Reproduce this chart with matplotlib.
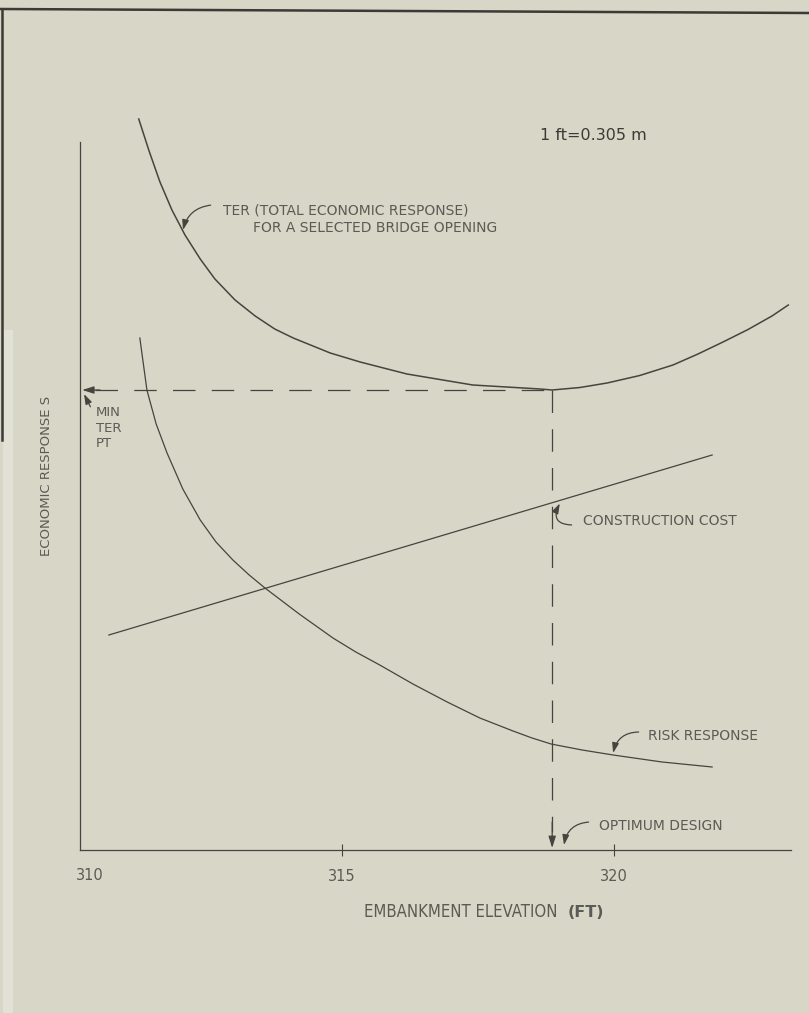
import matplotlib.pyplot as plt
import numpy as np
from matplotlib.lines import Line2D
from matplotlib.patches import Rectangle

# Embankment elevation (ft) vs economic response (relative units)
ter_elev = [311.26, 311.45, 311.65, 311.87, 312.11, 312.39, 312.66, 313.03, 313.40, 313.76,
            314.10, 314.78, 315.33, 316.19, 317.40, 318.64, 318.86, 319.37, 319.87, 320.47,
            321.08, 321.54, 322.00, 322.46, 322.90, 323.20]
ter_resp = [73.1, 69.9, 66.8, 64.0, 61.5, 59.1, 57.1, 55.0, 53.4, 52.1,
            51.2, 49.7, 48.8, 47.6, 46.5, 46.1, 46.0, 46.25, 46.7, 47.45,
            48.5, 49.6, 50.8, 52.05, 53.4, 54.5]

risk_elev = [311.28, 311.34, 311.41, 311.58, 311.78, 312.07, 312.39, 312.68, 312.99, 313.29,
             313.58, 314.21, 314.83, 315.25, 315.69, 316.30, 316.93, 317.53, 318.14, 318.49,
             318.84, 319.41, 319.98, 320.88, 321.80]
risk_resp = [51.2, 48.8, 46.0, 42.6, 39.7, 36.1, 33.0, 30.8, 29.0, 27.5,
             26.2, 23.6, 21.2, 19.8, 18.5, 16.6, 14.8, 13.2, 11.9, 11.2,
             10.6, 10.0, 9.5, 8.8, 8.3]

cost_elev = [310.71, 321.80]
cost_resp = [21.5, 39.5]

opt_elev = 318.86
ter_min = 46.0

x_ticks = [315, 320]

bg = '#d8d6c6'
ink = '#45453f'
txt = '#5b5b55'

plt.rcParams['font.family'] = 'DejaVu Sans'

W, H = 809, 1013
fig = plt.figure(figsize=(W / 100, H / 100), dpi=100, facecolor=bg)
ax = fig.add_axes([80 / W, 1 - 850 / H, (791 - 80) / W, (850 - 110) / H])
ax.set_facecolor(bg)
ax.set_xlim(310.18, 323.25)
ax.set_ylim(0, 74.0)


def px(x, y):
    # pixel position in the picture -> data coords (used only for placing labels)
    return (310.18 + (x - 80) / 54.4, (850 - y) / 10)


# curves
ax.plot(ter_elev, ter_resp, color=ink, lw=1.1, clip_on=False, solid_joinstyle='round')
ax.plot(risk_elev, risk_resp, color=ink, lw=0.9, solid_joinstyle='round')
ax.plot(cost_elev, cost_resp, color=ink, lw=0.9)

# dashed guide lines to the minimum TER point
dash = dict(color=ink, lw=0.9, dashes=(18, 13))
ax.plot([310.45, opt_elev], [ter_min, ter_min], **dash)
ax.plot([opt_elev, opt_elev], [ter_min, 1.8], **dash)
head = dict(arrowstyle='-|>,head_length=0.7,head_width=0.22', color=ink, lw=0.9,
            shrinkA=0, shrinkB=0)
ax.annotate('', xy=(310.22, ter_min), xytext=(310.55, ter_min), arrowprops=head)
ax.annotate('', xy=(opt_elev, 0.2), xytext=(opt_elev, 2.8), arrowprops=head)

# axes styling
for s in ['top', 'right']:
    ax.spines[s].set_visible(False)
ax.spines['left'].set_bounds(0, 70.8)
for s in ['left', 'bottom']:
    ax.spines[s].set_color(ink)
    ax.spines[s].set_linewidth(0.9)
ax.set_yticks([])
ax.set_xticks(x_ticks)
ax.set_xticklabels([str(t) for t in x_ticks])
ax.tick_params(axis='x', direction='inout', length=9, width=0.8, color=ink,
               pad=9, labelsize=10.5, labelcolor=txt)
fig.text(90 / W, 1 - 876 / H, '310', ha='center', va='center', fontsize=10.5, color=txt)

# axis titles
fig.text(47 / W, 1 - 476 / H, 'ECONOMIC RESPONSE S', rotation=90, ha='center',
         va='center', fontsize=9.5, color=txt)
fig.text(558 / W, 1 - 912 / H, 'EMBANKMENT ELEVATION', ha='right', va='center',
         fontsize=12, fontstretch='condensed', color=txt)
fig.text(568 / W, 1 - 912 / H, '(FT)', ha='left', va='center', fontsize=11.5,
         fontweight='bold', color=txt)

fig.text(540 / W, 1 - 136 / H, '1 ft=0.305 m', ha='left', va='center', fontsize=11.5,
         color='#3a3a36')

# annotations
arr = dict(arrowstyle='-|>,head_length=0.6,head_width=0.2', color=ink, lw=0.9,
           shrinkA=1, shrinkB=0)
ax.text(*px(223, 210), 'TER (TOTAL ECONOMIC RESPONSE)', fontsize=10, color=txt,
        ha='left', va='center')
ax.text(*px(253, 228), 'FOR A SELECTED BRIDGE OPENING', fontsize=10, color=txt,
        ha='left', va='center')
ax.annotate('', xy=px(183, 230), xytext=px(212, 205),
            arrowprops=dict(connectionstyle='arc3,rad=0.35', **arr))

ax.text(*px(96, 428), 'MIN\nTER\nPT', fontsize=9.5, color=txt, ha='left', va='center',
        linespacing=1.25)
ax.annotate('', xy=px(84, 394), xytext=px(91, 408), arrowprops=arr)

cost_x = 319.0
cost_y = np.interp(cost_x, cost_elev, cost_resp)
ax.text(*px(583, 521), 'CONSTRUCTION COST', fontsize=10, color=txt, ha='left', va='center')
ax.annotate('', xy=(cost_x, cost_y - 0.3), xytext=px(573, 525),
            arrowprops=dict(connectionstyle='arc3,rad=-0.8', **arr))

ax.text(*px(648, 736), 'RISK RESPONSE', fontsize=10, color=txt, ha='left', va='center')
ax.annotate('', xy=(risk_elev[22], risk_resp[22] + 0.2), xytext=px(640, 732),
            arrowprops=dict(connectionstyle='arc3,rad=0.4', **arr))

ax.text(*px(599, 826), 'OPTIMUM DESIGN', fontsize=10, color=txt, ha='left', va='center')
ax.annotate('', xy=px(564, 845), xytext=px(590, 822),
            arrowprops=dict(connectionstyle='arc3,rad=0.4', **arr))

# scanned page frame and lighter strip at the left edge
fig.add_artist(Rectangle((3 / W, 0), 10 / W, 1 - 330 / H, transform=fig.transFigure,
                         color='#e2e1d6', lw=0, zorder=0))
fig.add_artist(Line2D([0, 1], [1 - 9 / H, 1 - 13 / H], transform=fig.transFigure,
                      color='#3a3a36', lw=1.8))
fig.add_artist(Line2D([2 / W, 2 / W], [1 - 9 / H, 1 - 440 / H], transform=fig.transFigure,
                      color='#3a3a36', lw=1.8))

fig.savefig('out.png', dpi=100, facecolor=bg)
